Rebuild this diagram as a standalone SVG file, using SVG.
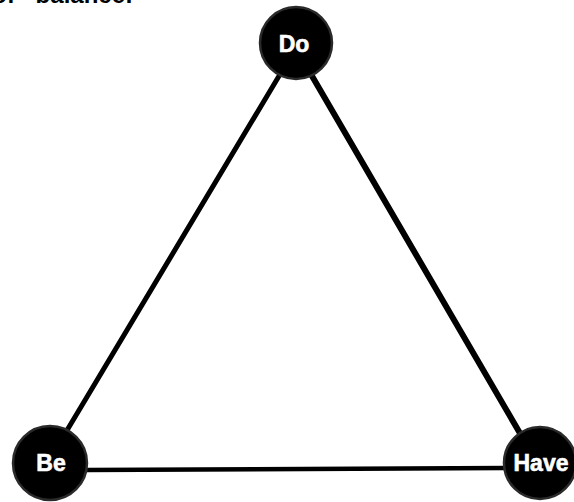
<svg xmlns="http://www.w3.org/2000/svg" width="574" height="502" viewBox="0 0 574 502">
  <style>
    .node circle { fill: #000; stroke: #2a2a2a; stroke-width: 2.5; }
    .node text { fill: #fff; stroke: #fff; stroke-width: 0.6; font-family: "Liberation Sans", Arial, sans-serif; font-weight: bold; font-size: 23px; text-anchor: middle; }
    .edge { stroke: #000; stroke-linecap: round; fill: none; }
    .title { fill: #000; font-family: "Liberation Sans", Arial, sans-serif; font-weight: bold; font-size: 24px; }
  </style>
  <rect width="574" height="502" fill="#fff"/>
  <text class="title" x="133" y="3" text-anchor="end" word-spacing="14">of balance:</text>
  <g id="connectors">
    <line class="edge" x1="279" y1="76" x2="66" y2="432" stroke-width="5"/>
    <line class="edge" x1="312" y1="76" x2="521" y2="435" stroke-width="6"/>
    <line class="edge" x1="86" y1="470" x2="506" y2="468" stroke-width="4.5"/>
  </g>
  <g id="node-do" class="node">
    <circle cx="296" cy="43" r="36"/>
    <text x="294" y="52">Do</text>
  </g>
  <g id="node-be" class="node">
    <circle cx="50" cy="463" r="37"/>
    <text x="51" y="471">Be</text>
  </g>
  <g id="node-have" class="node">
    <circle cx="540" cy="463" r="36"/>
    <text x="541" y="471">Have</text>
  </g>
</svg>
